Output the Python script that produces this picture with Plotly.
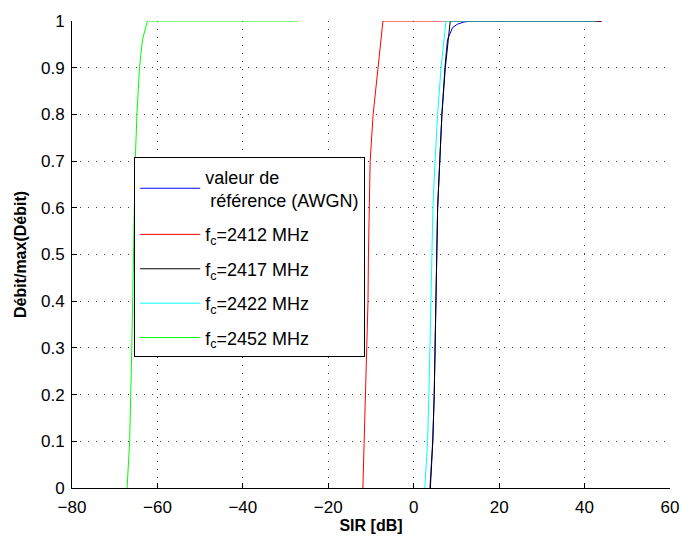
import plotly.graph_objects as go

# SIR [dB] and normalised throughput for each curve
ref_x = [3.8, 4.45, 4.8, 5.0, 5.25, 5.4, 5.6, 6.1, 6.6, 7.3, 7.9, 9.1, 10.2, 11.8, 14.0, 44.0]
ref_y = [0.0, 0.1, 0.2, 0.3, 0.4, 0.5, 0.6, 0.7, 0.8, 0.9, 0.96, 0.986, 0.993, 0.998, 1.0, 1.0]

f2412_x = [-11.9, -11.6, -11.3, -11.0, -10.7, -10.6, -10.4, -10.2, -9.5, -8.4, -7.2, 44.0]
f2412_y = [0.0, 0.1, 0.2, 0.3, 0.4, 0.5, 0.6, 0.7, 0.8, 0.9, 1.0, 1.0]

f2417_x = [3.9, 4.47, 4.8, 5.0, 5.25, 5.4, 5.6, 6.1, 6.6, 7.4, 8.55, 44.0]
f2417_y = [0.0, 0.1, 0.2, 0.3, 0.4, 0.5, 0.6, 0.7, 0.8, 0.9, 1.0, 1.0]

f2422_x = [2.6, 3.25, 3.55, 3.8, 4.0, 4.24, 4.5, 5.0, 5.6, 6.4, 7.56, 42.5]
f2422_y = [0.0, 0.1, 0.2, 0.3, 0.4, 0.5, 0.6, 0.7, 0.8, 0.9, 1.0, 1.0]

f2452_x = [-67.1, -66.5, -66.0, -65.6, -65.2, -64.8, -64.2, -63.5, -62.35, -27.0]
f2452_y = [0.0, 0.1, 0.3, 0.5, 0.7, 0.8, 0.9, 0.96, 1.0, 1.0]

names = ["valeur de<br>\u00a0référence (AWGN)",
         "f<sub>c</sub>=2412 MHz",
         "f<sub>c</sub>=2417 MHz",
         "f<sub>c</sub>=2422 MHz",
         "f<sub>c</sub>=2452 MHz"]
colors = ["#0000ff", "#ff0000", "#000000", "#00ffff", "#00ff00"]
series = [(ref_x, ref_y), (f2412_x, f2412_y), (f2417_x, f2417_y),
          (f2422_x, f2422_y), (f2452_x, f2452_y)]

x_ticks = [-80, -60, -40, -20, 0, 20, 40, 60]
y_ticks = [0, 0.1, 0.2, 0.3, 0.4, 0.5, 0.6, 0.7, 0.8, 0.9, 1]
y_labels = ["0", "0.1", "0.2", "0.3", "0.4", "0.5", "0.6", "0.7", "0.8", "0.9", "1"]

fig = go.Figure()
for i, ((xs, ys), n, c) in enumerate(zip(series, names, colors)):
    fig.add_trace(go.Scatter(x=xs, y=ys, mode="lines", name=n,
                             legendgroup="g%d" % i,
                             line=dict(color=c, width=1)))

font = "Liberation Sans, Arial, Helvetica, sans-serif"
axis_common = dict(showline=True, linecolor="black", linewidth=1,
                   ticks="inside", ticklen=5, tickcolor="black",
                   showgrid=True, gridcolor="#404040", gridwidth=1,
                   griddash="1px,7px", zeroline=False, mirror=False,
                   tickfont=dict(family=font, size=17, color="black"))

fig.update_layout(
    width=691, height=544,
    margin=dict(l=72, r=12, t=15, b=49),
    paper_bgcolor="white", plot_bgcolor="white",
    font=dict(family=font, size=17, color="black"),
    xaxis=dict(range=[-80, 60], tickvals=x_ticks,
               ticktext=[str(v).replace("-", "\u2212") for v in x_ticks],
               ticklabelstandoff=4,
               title=dict(text="<b>SIR [dB]</b>", standoff=3,
                          font=dict(family=font, size=16)),
               **axis_common),
    yaxis=dict(range=[0, 1], tickvals=y_ticks, ticktext=y_labels,
               ticklabelstandoff=3,
               title=dict(text="<b>Débit/max(Débit)</b>", standoff=10,
                          font=dict(family=font, size=16)),
               **axis_common),
    legend=dict(x=0.104, y=0.708, xanchor="left", yanchor="top",
                bgcolor="white", bordercolor="black", borderwidth=1,
                font=dict(family=font, size=18, color="black"),
                itemwidth=60, tracegroupgap=8),
    showlegend=True,
)

fig.write_html("out.html",
               config={"displayModeBar": False},
               post_script="document.body.style.margin='0';"
                           "document.documentElement.style.overflow='hidden';")
